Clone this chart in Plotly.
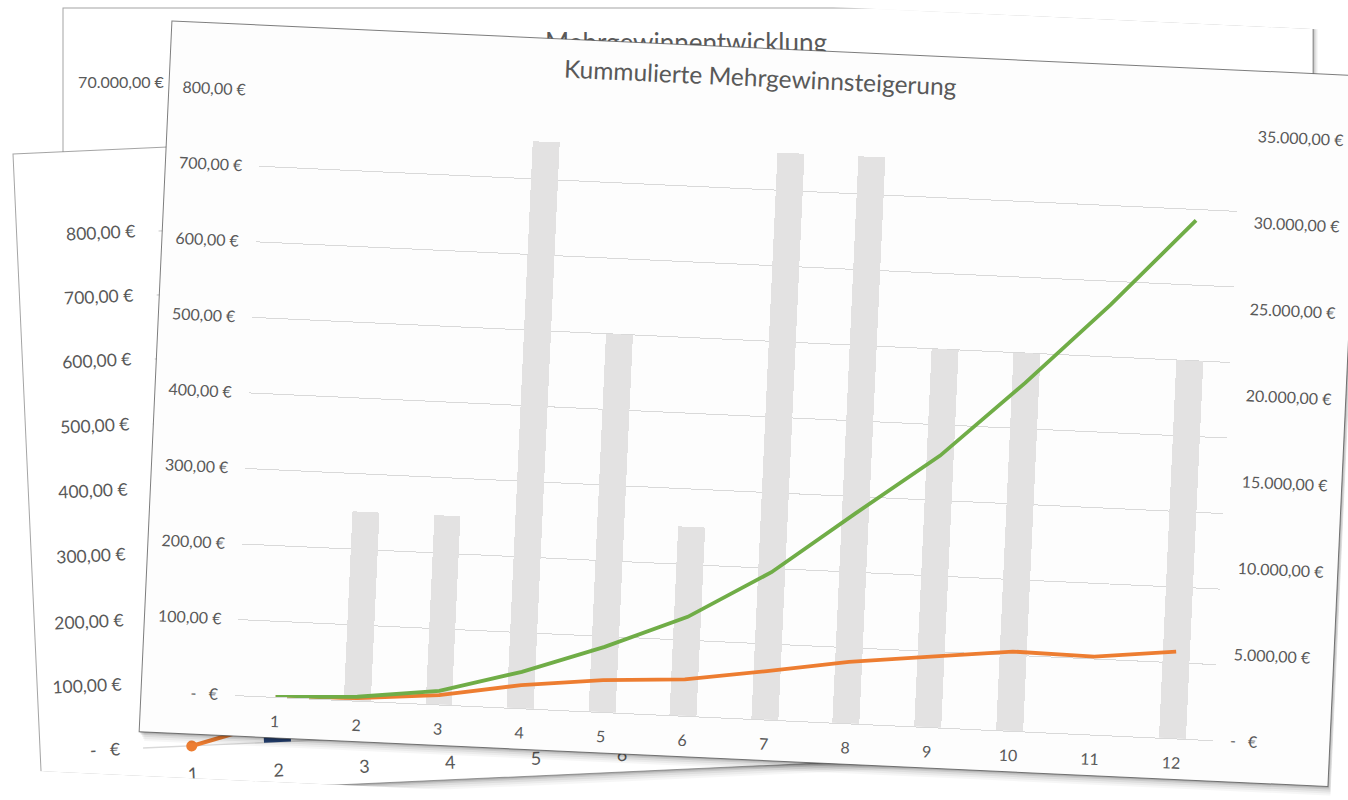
import math
import plotly.graph_objects as go

# ---------------- data ----------------
categories = [1, 2, 3, 4, 5, 6, 7, 8, 9, 10, 11, 12]
bar_values = [0, 250, 250, 750, 500, 250, 750, 750, 500, 500, 0, 500]          # left axis (€)
orange_values = [0, 150, 540, 1340, 1850, 2110, 2800, 3560, 4080, 4590, 4510, 5020]      # right axis (€)
green_values = [0, 230, 790, 2110, 3770, 5730, 8530, 12170, 15720, 20150, 24880, 29990]  # right axis (€)

left_tickvals = [0, 100, 200, 300, 400, 500, 600, 700, 800]
left_ticktext = ["-   €", "100,00 €", "200,00 €", "300,00 €", "400,00 €",
                 "500,00 €", "600,00 €", "700,00 €", "800,00 €"]
right_tickvals = [0, 5000, 10000, 15000, 20000, 25000, 30000, 35000]
right_ticktext = ["-   €", "5.000,00 €", "10.000,00 €", "15.000,00 €", "20.000,00 €",
                  "25.000,00 €", "30.000,00 €", "35.000,00 €"]

title_text = "Kummulierte Mehrgewinnsteigerung"
back_title = "Mehrgewinnentwicklung"
back_axis_label = "70.000,00 €"
side_axis_labels = ["-   €", "100,00 €", "200,00 €", "300,00 €", "400,00 €",
                    "500,00 €", "600,00 €", "700,00 €", "800,00 €"]
side_categories = ["1", "2", "3", "4", "5", "6", "7", "8", "9", "10", "11", "12"]

# ---------------- geometry ----------------
FW, FH = 1348, 800
ML, MR, MT, MB = 249, 120, 110, 85
PW, PH = FW - ML - MR, FH - MT - MB
ANG = 2.64                      # whole page rotated clockwise by this (CSS)
CA, SA = math.cos(math.radians(ANG)), math.sin(math.radians(ANG))
FONT = "Lato, 'Open Sans', sans-serif"
TXT = "#595959"


def fig_xy(sx, sy):
    """screen position -> position inside the (unrotated) figure"""
    dx, dy = sx - FW / 2, sy - FH / 2
    return FW / 2 + CA * dx + SA * dy, FH / 2 - SA * dx + CA * dy


def paper(fx, fy):
    return (fx - ML) / PW, (FH - MB - fy) / PH


def poly_path(pts):
    p = [paper(*q) for q in pts]
    return "M " + " L ".join(f"{x:.5f},{y:.5f}" for x, y in p) + " Z"


shapes = []


def add_poly(pts, fill, line_color=None, line_width=0):
    shapes.append(dict(type="path", xref="paper", yref="paper", layer="below",
                       path=poly_path(pts), fillcolor=fill,
                       line=dict(color=line_color or "rgba(0,0,0,0)", width=line_width)))


def add_line(a, b, color, width):
    p1, p2 = paper(*a), paper(*b)
    shapes.append(dict(type="path", xref="paper", yref="paper", layer="below",
                       path=f"M {p1[0]:.5f},{p1[1]:.5f} L {p2[0]:.5f},{p2[1]:.5f}",
                       line=dict(color=color, width=width)))


def add_sheet(pts, fill="#ffffff", edge="rgba(90,90,90,0.55)"):
    for off, a in [(9, 0.035), (7, 0.045), (5, 0.06), (3, 0.09), (1.5, 0.12)]:
        sh = [(x + off * 0.6, y + off) for x, y in pts]
        add_poly(sh, f"rgba(0,0,0,{a})")
    add_poly(pts, fill, edge, 1)


def add_text(fx, fy, text, size, angle, color=TXT):
    x, y = paper(fx, fy)
    shapes.append(dict(type="rect", xref="paper", yref="paper", layer="below",
                       x0=x - 1 / PW, x1=x + 1 / PW, y0=y - 1 / PH, y1=y + 1 / PH,
                       line=dict(width=0), fillcolor="rgba(0,0,0,0)",
                       label=dict(text=text, textangle=angle, textposition="middle center",
                                  font=dict(size=size, color=color, family=FONT))))


# ---- sheet A (top, untilted on screen) ----
add_sheet([fig_xy(63, 8), fig_xy(1313, 8), fig_xy(1313, 700), fig_xy(63, 700)])
add_text(*fig_xy(686, 42), back_title, 26, -ANG)
add_text(*fig_xy(121, 82), back_axis_label, 16, -ANG)

# ---- sheet B (left, tilted counter-clockwise on screen) ----
PHI = 2.6
cb, sb = math.cos(math.radians(PHI)), math.sin(math.radians(PHI))
B0 = (13, 154)


def b_xy(u, v):
    return fig_xy(B0[0] + u * cb + v * sb, B0[1] - u * sb + v * cb)


add_sheet([b_xy(0, 0), b_xy(1130, 0), b_xy(1130, 645), b_xy(0, 645)])
label_y = [749, 685, 621, 555, 490, 425, 360, 296, 232]
for k, sy in enumerate(label_y):
    right = 121 + (685 - sy) * 0.03
    w = 28 if k == 0 else 68
    add_text(*fig_xy(right - w / 2, sy), side_axis_labels[k], 17.5, -ANG - PHI)
    gx = right + 24
    add_line(fig_xy(gx, sy - 1), fig_xy(gx + 500, sy - 1 - 500 * 0.045), "#d9d9d9", 1.3)
B_ZERO, CAT0, CATSTEP = 599.5, 151.7, 85.85
for i, lab in enumerate(side_categories):
    add_text(*b_xy(CAT0 + i * CATSTEP, 627), lab, 18, -ANG - PHI)
bw = 13.5
add_poly([b_xy(CAT0 + CATSTEP - bw, B_ZERO), b_xy(CAT0 + CATSTEP + bw, B_ZERO),
          b_xy(CAT0 + CATSTEP + bw, B_ZERO - 60), b_xy(CAT0 + CATSTEP - bw, B_ZERO - 60)], "#264478")
add_line(b_xy(CAT0, B_ZERO), b_xy(CAT0 + CATSTEP, B_ZERO - 21), "#ED7D31", 4)
cx, cy = b_xy(CAT0, B_ZERO)
r = 5.5
x0, y0 = paper(cx - r, cy + r)
x1, y1 = paper(cx + r, cy - r)
shapes.append(dict(type="circle", xref="paper", yref="paper", layer="below",
                   x0=x0, y0=y0, x1=x1, y1=y1, fillcolor="#ED7D31", line=dict(width=0)))

# ---- main sheet (axis aligned in the figure frame) ----
add_sheet([(155, 44.5), (1345, 44.5), (1345, 756), (155, 756)], fill="#fdfdfd",
          edge="rgba(70,70,70,0.7)")

# ---------------- traces ----------------
fig = go.Figure()
fig.add_trace(go.Bar(x=categories, y=bar_values, width=0.33,
                     marker=dict(color="#e3e2e2", line=dict(width=0)), yaxis="y", name="Mehrgewinn"))
fig.add_trace(go.Scatter(x=categories, y=orange_values, mode="lines", yaxis="y2",
                         line=dict(color="#ED7D31", width=3.8), name="Mehrgewinn kumuliert"))
fig.add_trace(go.Scatter(x=categories, y=green_values, mode="lines", yaxis="y2",
                         line=dict(color="#70AD47", width=3.8), name="Kumulierte Steigerung"))

tx, ty = paper(*fig_xy(760, 77))
fig.update_layout(
    width=FW, height=FH, autosize=False,
    margin=dict(l=ML, r=MR, t=MT, b=MB, pad=0),
    paper_bgcolor="#ffffff", plot_bgcolor="rgba(0,0,0,0)",
    showlegend=False, bargap=0,
    font=dict(family=FONT, color=TXT, size=16),
    xaxis=dict(range=[0.5, 12.5], tickvals=categories, ticktext=[str(c) for c in categories],
               showgrid=False, zeroline=False, showline=True, linecolor="#d9d9d9", linewidth=1.3,
               ticks="", ticklabelstandoff=10, tickfont=dict(size=16, color=TXT)),
    yaxis=dict(range=[0, 800], tickvals=left_tickvals, ticktext=left_ticktext,
               showgrid=True, gridcolor="#d9d9d9", gridwidth=1.3, zeroline=False, showline=False,
               ticks="", ticklabelstandoff=16, tickfont=dict(size=16, color=TXT)),
    yaxis2=dict(range=[0, 35000], tickvals=right_tickvals, ticktext=right_ticktext, overlaying="y",
                side="right", showgrid=False, zeroline=False, showline=False, ticks="",
                ticklabelstandoff=16, tickfont=dict(size=16, color=TXT)),
    shapes=shapes,
    annotations=[dict(text=title_text, x=tx, y=ty, xref="paper", yref="paper", showarrow=False,
                      xanchor="center", yanchor="middle", font=dict(size=24.5, color=TXT, family=FONT))],
)

post = ("var d=document.getElementById('{plot_id}');"
        "document.documentElement.style.overflow='hidden';"
        "document.body.style.margin='0';document.body.style.overflow='hidden';"
        "document.body.style.background='#ffffff';"
        "d.style.transformOrigin='50% 50%';d.style.transform='rotate(" + str(ANG) + "deg)';")
fig.write_html("out.html", post_script=post, config={"displayModeBar": False})
